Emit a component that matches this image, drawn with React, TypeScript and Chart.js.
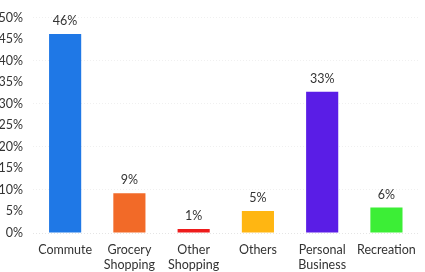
import React, { useEffect, useRef } from "react";
import { Chart, registerables } from "chart.js";

Chart.register(...registerables);

const categories: (string | string[])[] = [
  "Commute",
  ["Grocery", "Shopping"],
  ["Other", "Shopping"],
  "Others",
  ["Personal", "Business"],
  "Recreation",
];
const shares = [46.2, 9.2, 0.9, 5.1, 32.8, 5.9];
const barColors = ["#1F78E6", "#F26A28", "#EE1C1C", "#FFB612", "#5A1DE6", "#3CEE36"];
const yMax = 50;
const yStep = 5;

const FONT = "Lato, 'Open Sans', sans-serif";
const TEXT = "#333333";

const valueLabels = {
  id: "valueLabels",
  afterDatasetsDraw(chart: any) {
    const ctx = chart.ctx;
    const meta = chart.getDatasetMeta(0);
    ctx.save();
    ctx.font = `12.5px ${FONT}`;
    ctx.fillStyle = TEXT;
    ctx.textAlign = "center";
    ctx.textBaseline = "middle";
    meta.data.forEach((bar: any, i: number) => {
      const v = chart.data.datasets[0].data[i] as number;
      ctx.fillText(`${Math.round(v)}%`, bar.x, bar.y - 13);
    });
    ctx.restore();
  },
};

export default function App() {
  const ref = useRef<HTMLCanvasElement | null>(null);
  useEffect(() => {
    document.body.style.margin = "0";
    if (!ref.current) return;
    const chart = new Chart(ref.current, {
      type: "bar",
      data: {
        labels: categories,
        datasets: [
          {
            data: shares,
            backgroundColor: barColors,
            borderWidth: 0,
            barPercentage: 0.5,
            categoryPercentage: 1,
          },
        ],
      },
      options: {
        animation: false,
        responsive: false,
        maintainAspectRatio: false,
        layout: { padding: { top: 6, right: 2, left: 0, bottom: 0 } },
        plugins: {
          legend: { display: false },
          tooltip: { enabled: false },
        },
        scales: {
          x: {
            grid: { display: false, drawTicks: false },
            border: { display: false },
            ticks: {
              color: TEXT,
              font: { family: FONT, size: 12.5, lineHeight: 1.2 },
              padding: 9,
              maxRotation: 0,
              autoSkip: false,
            },
            afterFit(scale: any) {
              scale.height = 39;
            },
          },
          y: {
            min: 0,
            max: yMax,
            grid: {
              drawTicks: false,
              color: (c: any) =>
                c.tick && c.tick.value > 0 && c.tick.value % 10 === 0
                  ? "rgba(0,0,0,0.06)"
                  : c.tick && c.tick.value === 0
                  ? "rgba(0,0,0,0.1)"
                  : "rgba(0,0,0,0)",
              lineWidth: 1,
            },
            border: { display: false, dash: [1, 2] },
            ticks: {
              stepSize: yStep,
              color: TEXT,
              font: { family: FONT, size: 12.5 },
              padding: 10,
              callback: (v: any) => `${v}%`,
            },
            afterFit(scale: any) {
              scale.width = 33;
            },
          },
        },
      },
      plugins: [valueLabels],
    });
    return () => chart.destroy();
  }, []);
  return (
    <div style={{ position: "absolute", left: 0, top: 0, width: 425, height: 272, background: "#fff" }}>
      <canvas ref={ref} width={425} height={272} style={{ width: 425, height: 272 }} />
    </div>
  );
}
